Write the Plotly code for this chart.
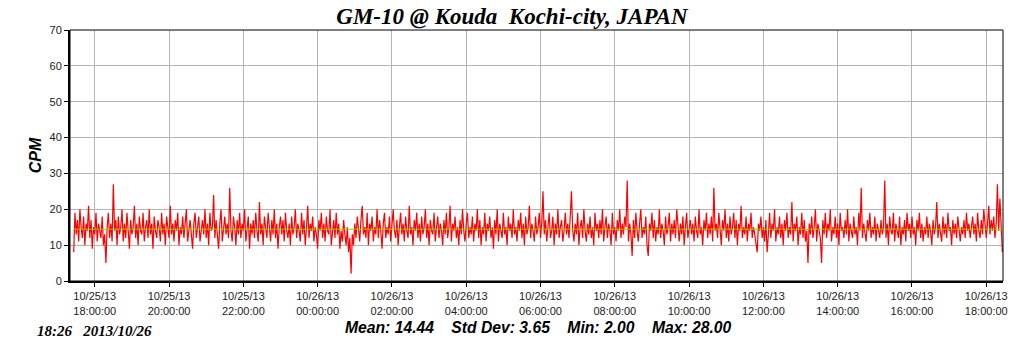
import datetime as dt
import plotly.graph_objects as go

# ---- data (CPM every 2 minutes) ----
START = "2013-10-25 17:26"
STEP_MIN = 2
cpm = [
    8,19,13,17,11,20,15,12,18,10,16,14,21,12,17,9,15,13,19,11,16,14,12,18,10,
    13,5,15,19,12,16,11,27,14,17,10,18,13,15,20,11,16,12,19,14,9,17,13,15,21,
    12,16,10,18,14,13,19,11,15,17,12,20,13,16,9,18,14,12,17,15,11,19,13,16,10,
    18,15,12,21,13,16,11,17,14,19,10,15,13,18,12,16,20,11,14,17,13,9,16,19,12,
    15,18,11,14,17,13,20,12,16,10,19,14,15,24,12,17,13,9,16,20,11,15,18,13,16,
    12,26,14,11,18,15,10,17,13,19,12,16,14,20,11,15,18,9,16,13,17,12,19,14,11,
    22,13,16,10,18,15,12,19,14,11,17,13,20,12,16,9,15,18,13,17,11,19,14,12,16,
    10,18,13,15,20,12,16,14,11,19,13,17,10,15,21,12,16,14,18,11,15,13,9,17,14,
    19,12,16,11,18,14,13,20,10,15,17,12,19,13,16,9,14,11,17,13,10,15,8,12,2,
    13,10,16,12,18,14,11,17,21,13,15,12,19,10,16,14,18,11,15,13,20,12,17,14,9,
    16,19,12,15,13,18,11,16,20,14,12,17,10,15,19,13,16,11,18,14,12,21,13,15,10,
    17,14,19,12,16,11,18,13,15,20,12,16,10,17,14,13,19,11,15,18,12,16,14,10,17,
    13,19,12,15,21,11,16,14,18,12,15,10,17,13,20,14,11,16,19,12,15,13,18,11,16,
    14,20,12,17,10,15,13,19,11,16,14,18,12,15,9,17,13,20,11,16,14,12,19,13,15,
    10,18,14,16,12,20,13,15,11,17,14,19,12,16,10,18,13,15,21,12,16,14,11,18,13,
    15,19,12,16,25,13,17,11,15,19,12,14,18,10,16,13,20,12,15,17,11,14,19,13,16,
    12,18,25,14,11,16,13,19,10,15,17,12,20,14,11,16,13,18,12,15,10,19,14,16,12,
    17,13,20,11,15,18,12,16,14,10,19,13,15,11,17,14,20,12,16,13,18,15,28,11,16,
    13,7,17,12,19,14,11,16,20,12,15,13,18,10,7,16,14,19,12,17,11,15,13,20,12,
    16,14,10,18,13,15,19,11,16,13,17,12,20,14,11,16,13,18,10,15,19,12,14,17,13,
    16,11,18,14,12,20,13,15,10,17,14,19,12,16,13,18,11,26,14,16,12,19,13,10,17,
    14,20,12,16,11,18,13,15,19,12,17,10,16,14,21,12,15,13,18,11,16,14,19,12,15,
    13,10,8,16,14,18,12,15,11,17,8,13,19,12,16,14,20,11,15,13,18,12,16,10,17,
    14,19,12,15,13,22,11,16,14,18,10,15,13,19,12,17,11,14,5,16,13,18,12,15,20,
    11,16,14,12,5,17,13,19,12,16,14,20,11,15,13,18,12,16,10,19,14,15,12,17,13,
    20,11,16,14,12,18,13,15,10,19,14,26,12,16,13,11,17,14,19,12,15,13,18,11,16,
    14,12,17,13,15,28,12,16,10,18,14,13,19,11,16,14,12,18,10,15,13,17,11,19,14,
    16,12,18,13,15,10,17,14,19,12,16,11,15,13,18,12,16,14,10,17,13,15,22,12,16,
    14,11,18,13,16,12,19,14,15,10,17,13,16,12,18,14,11,15,13,17,12,19,14,16,12,
    15,18,13,16,11,19,14,12,17,13,20,15,12,16,21,13,17,14,18,12,16,27,14,23,15,
    8,
]
MEAN = 14.44
STD_DEV = 3.65
MIN_V = 2.00
MAX_V = 28.00
TITLE = "GM-10 @ Kouda  Kochi-city, JAPAN"
STAMP = "18:26   2013/10/26"
TICK_TIMES = ["2013-10-25 18:00", "2013-10-25 20:00", "2013-10-25 22:00",
              "2013-10-26 00:00", "2013-10-26 02:00", "2013-10-26 04:00",
              "2013-10-26 06:00", "2013-10-26 08:00", "2013-10-26 10:00",
              "2013-10-26 12:00", "2013-10-26 14:00", "2013-10-26 16:00",
              "2013-10-26 18:00"]
X_RANGE = ["2013-10-25 17:20", "2013-10-26 18:27"]

start = dt.datetime.strptime(START, "%Y-%m-%d %H:%M")
times = [start + dt.timedelta(minutes=STEP_MIN * i) for i in range(len(cpm))]
tick_vals = [dt.datetime.strptime(t, "%Y-%m-%d %H:%M") for t in TICK_TIMES]
tick_text = [t.strftime("%m/%d/%y<br>%H:%M:%S") for t in tick_vals]

fig = go.Figure()
fig.add_trace(go.Scatter(x=times, y=cpm, mode="lines",
                         line=dict(color="#ff0000", width=1.2), showlegend=False))
fig.add_trace(go.Scatter(x=[times[0], times[-1]], y=[MEAN, MEAN], mode="lines",
                         line=dict(color="#99c800", width=1), showlegend=False))

fig.update_layout(
    width=1024, height=351,
    margin=dict(l=70, r=21, t=30, b=70),
    paper_bgcolor="white", plot_bgcolor="white",
    title=dict(text=TITLE, x=0.5, xanchor="center", y=0.955, yanchor="middle",
               font=dict(family="Liberation Serif", size=23, color="black",
                         weight="bold", style="italic")),
    xaxis=dict(range=X_RANGE, tickvals=tick_vals, ticktext=tick_text,
               showgrid=True, gridcolor="#b4b4b4", gridwidth=1,
               showline=True, linecolor="black", linewidth=2,
               ticks="outside", ticklen=4, tickcolor="black",
               tickfont=dict(family="Liberation Sans", size=11, color="#222"),
               zeroline=False),
    yaxis=dict(range=[0, 70], tickvals=[0, 10, 20, 30, 40, 50, 60, 70],
               showgrid=True, gridcolor="#b4b4b4", gridwidth=1,
               showline=True, linecolor="black", linewidth=2,
               ticks="outside", ticklen=4, tickcolor="black",
               tickfont=dict(family="Liberation Sans", size=11, color="#222"),
               title=dict(text="CPM", standoff=4,
                          font=dict(family="Liberation Sans", size=16, color="black",
                                    weight="bold", style="italic")),
               zeroline=False),
    shapes=[dict(type="rect", xref="paper", yref="paper", x0=0, x1=1, y0=0, y1=1,
                 line=dict(color="black", width=1), layer="above")],
    annotations=[
        dict(text=f"Mean: {MEAN:.2f}    Std Dev: {STD_DEV:.2f}    Min: {MIN_V:.2f}    Max: {MAX_V:.2f}",
             xref="paper", yref="paper", x=(538 - 70) / 933, y=-(327 - 281) / 251,
             xanchor="center", yanchor="middle", showarrow=False,
             font=dict(family="Liberation Sans", size=15.7, color="black",
                       weight="bold", style="italic")),
        dict(text=STAMP, xref="paper", yref="paper", x=(35 - 70) / 933,
             y=-(331 - 281) / 251, xanchor="left", yanchor="middle", showarrow=False,
             font=dict(family="Liberation Serif", size=15, color="black",
                       weight="bold", style="italic")),
    ],
)

fig.write_html("out.html")
